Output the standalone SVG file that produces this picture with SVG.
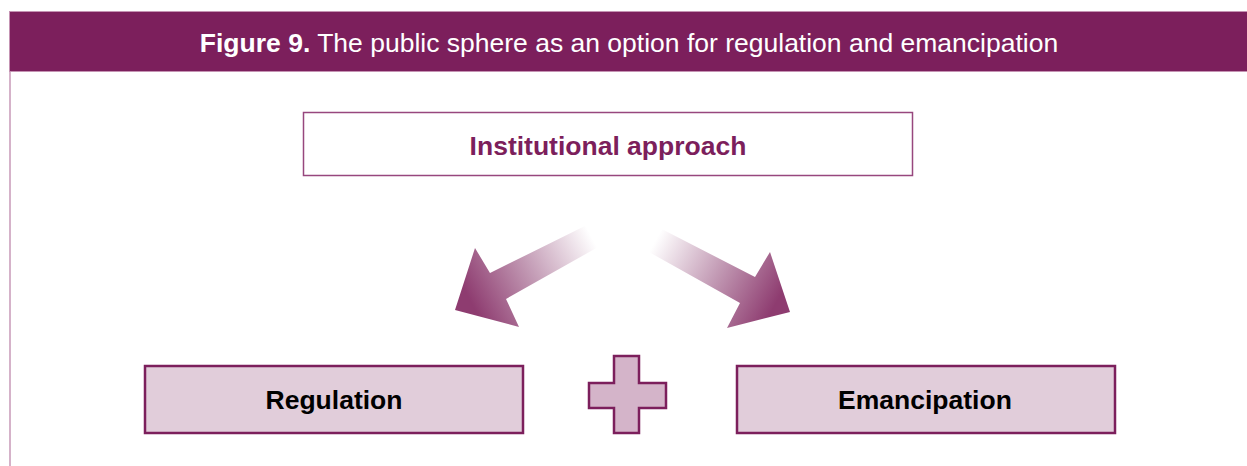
<svg xmlns="http://www.w3.org/2000/svg" width="1247" height="466" viewBox="0 0 1247 466">
  <defs>
    <style>
      .title { font-family: "Liberation Sans", Arial, sans-serif; font-size: 26.5px; fill: #ffffff; }
      .label { font-family: "Liberation Sans", Arial, sans-serif; font-size: 26.5px; font-weight: bold; text-anchor: middle; }
      .box-top { fill: #ffffff; stroke: #97477E; stroke-width: 1.5; }
      .box-low { fill: #E1CDDA; stroke: #7C1F5C; stroke-width: 2.5; }
      .plus { fill: #D4B4C9; stroke: #7C1F5C; stroke-width: 2.5; stroke-linejoin: miter; }
    </style>
    <linearGradient id="fadeLeft" gradientUnits="userSpaceOnUse" x1="602" y1="231" x2="470" y2="300">
      <stop offset="0" stop-color="#ffffff"/>
      <stop offset="0.08" stop-color="#ffffff"/>
      <stop offset="0.55" stop-color="#C39BB5"/>
      <stop offset="1" stop-color="#8E3C70"/>
    </linearGradient>
    <linearGradient id="fadeRight" gradientUnits="userSpaceOnUse" x1="645" y1="235" x2="775" y2="305">
      <stop offset="0" stop-color="#ffffff"/>
      <stop offset="0.08" stop-color="#ffffff"/>
      <stop offset="0.55" stop-color="#C39BB5"/>
      <stop offset="1" stop-color="#8E3C70"/>
    </linearGradient>
  </defs>

  <rect x="0" y="0" width="1247" height="466" fill="#ffffff"/>

  <!-- frame: header band and left rule -->
  <g id="header">
    <line x1="10" y1="71" x2="10" y2="466" stroke="#D5B2C9" stroke-width="2"/>
    <rect x="9.5" y="11.5" width="1240" height="60" fill="#7C1F5C" stroke="#C593B3" stroke-width="1"/>
    <text class="title" x="629" y="52" text-anchor="middle"><tspan font-weight="bold">Figure 9.</tspan> The public sphere as an option for regulation and emancipation</text>
  </g>

  <g id="institutional">
    <rect class="box-top" x="303.5" y="112.5" width="609" height="63"/>
    <text class="label" x="608" y="155" fill="#7C1F5C">Institutional approach</text>
  </g>

  <!-- connectors: faded block arrows -->
  <g id="connectors">
    <polygon fill="url(#fadeLeft)" points="597,220 490,273 475,248 455,310 519,327 506,299 607,242"/>
    <polygon fill="url(#fadeRight)" points="650,223 755,277 770,252 790,312 727,328 740,303 640,247"/>
  </g>

  <g id="regulation">
    <rect class="box-low" x="145" y="366" width="378" height="67"/>
    <text class="label" x="334" y="409" fill="#000000">Regulation</text>
  </g>

  <g id="plus">
    <polygon class="plus" points="614,356 639,356 639,383 666,383 666,408 639,408 639,433 614,433 614,408 589,408 589,383 614,383"/>
  </g>

  <g id="emancipation">
    <rect class="box-low" x="737" y="366" width="378" height="67"/>
    <text class="label" x="925" y="409" fill="#000000">Emancipation</text>
  </g>
</svg>
